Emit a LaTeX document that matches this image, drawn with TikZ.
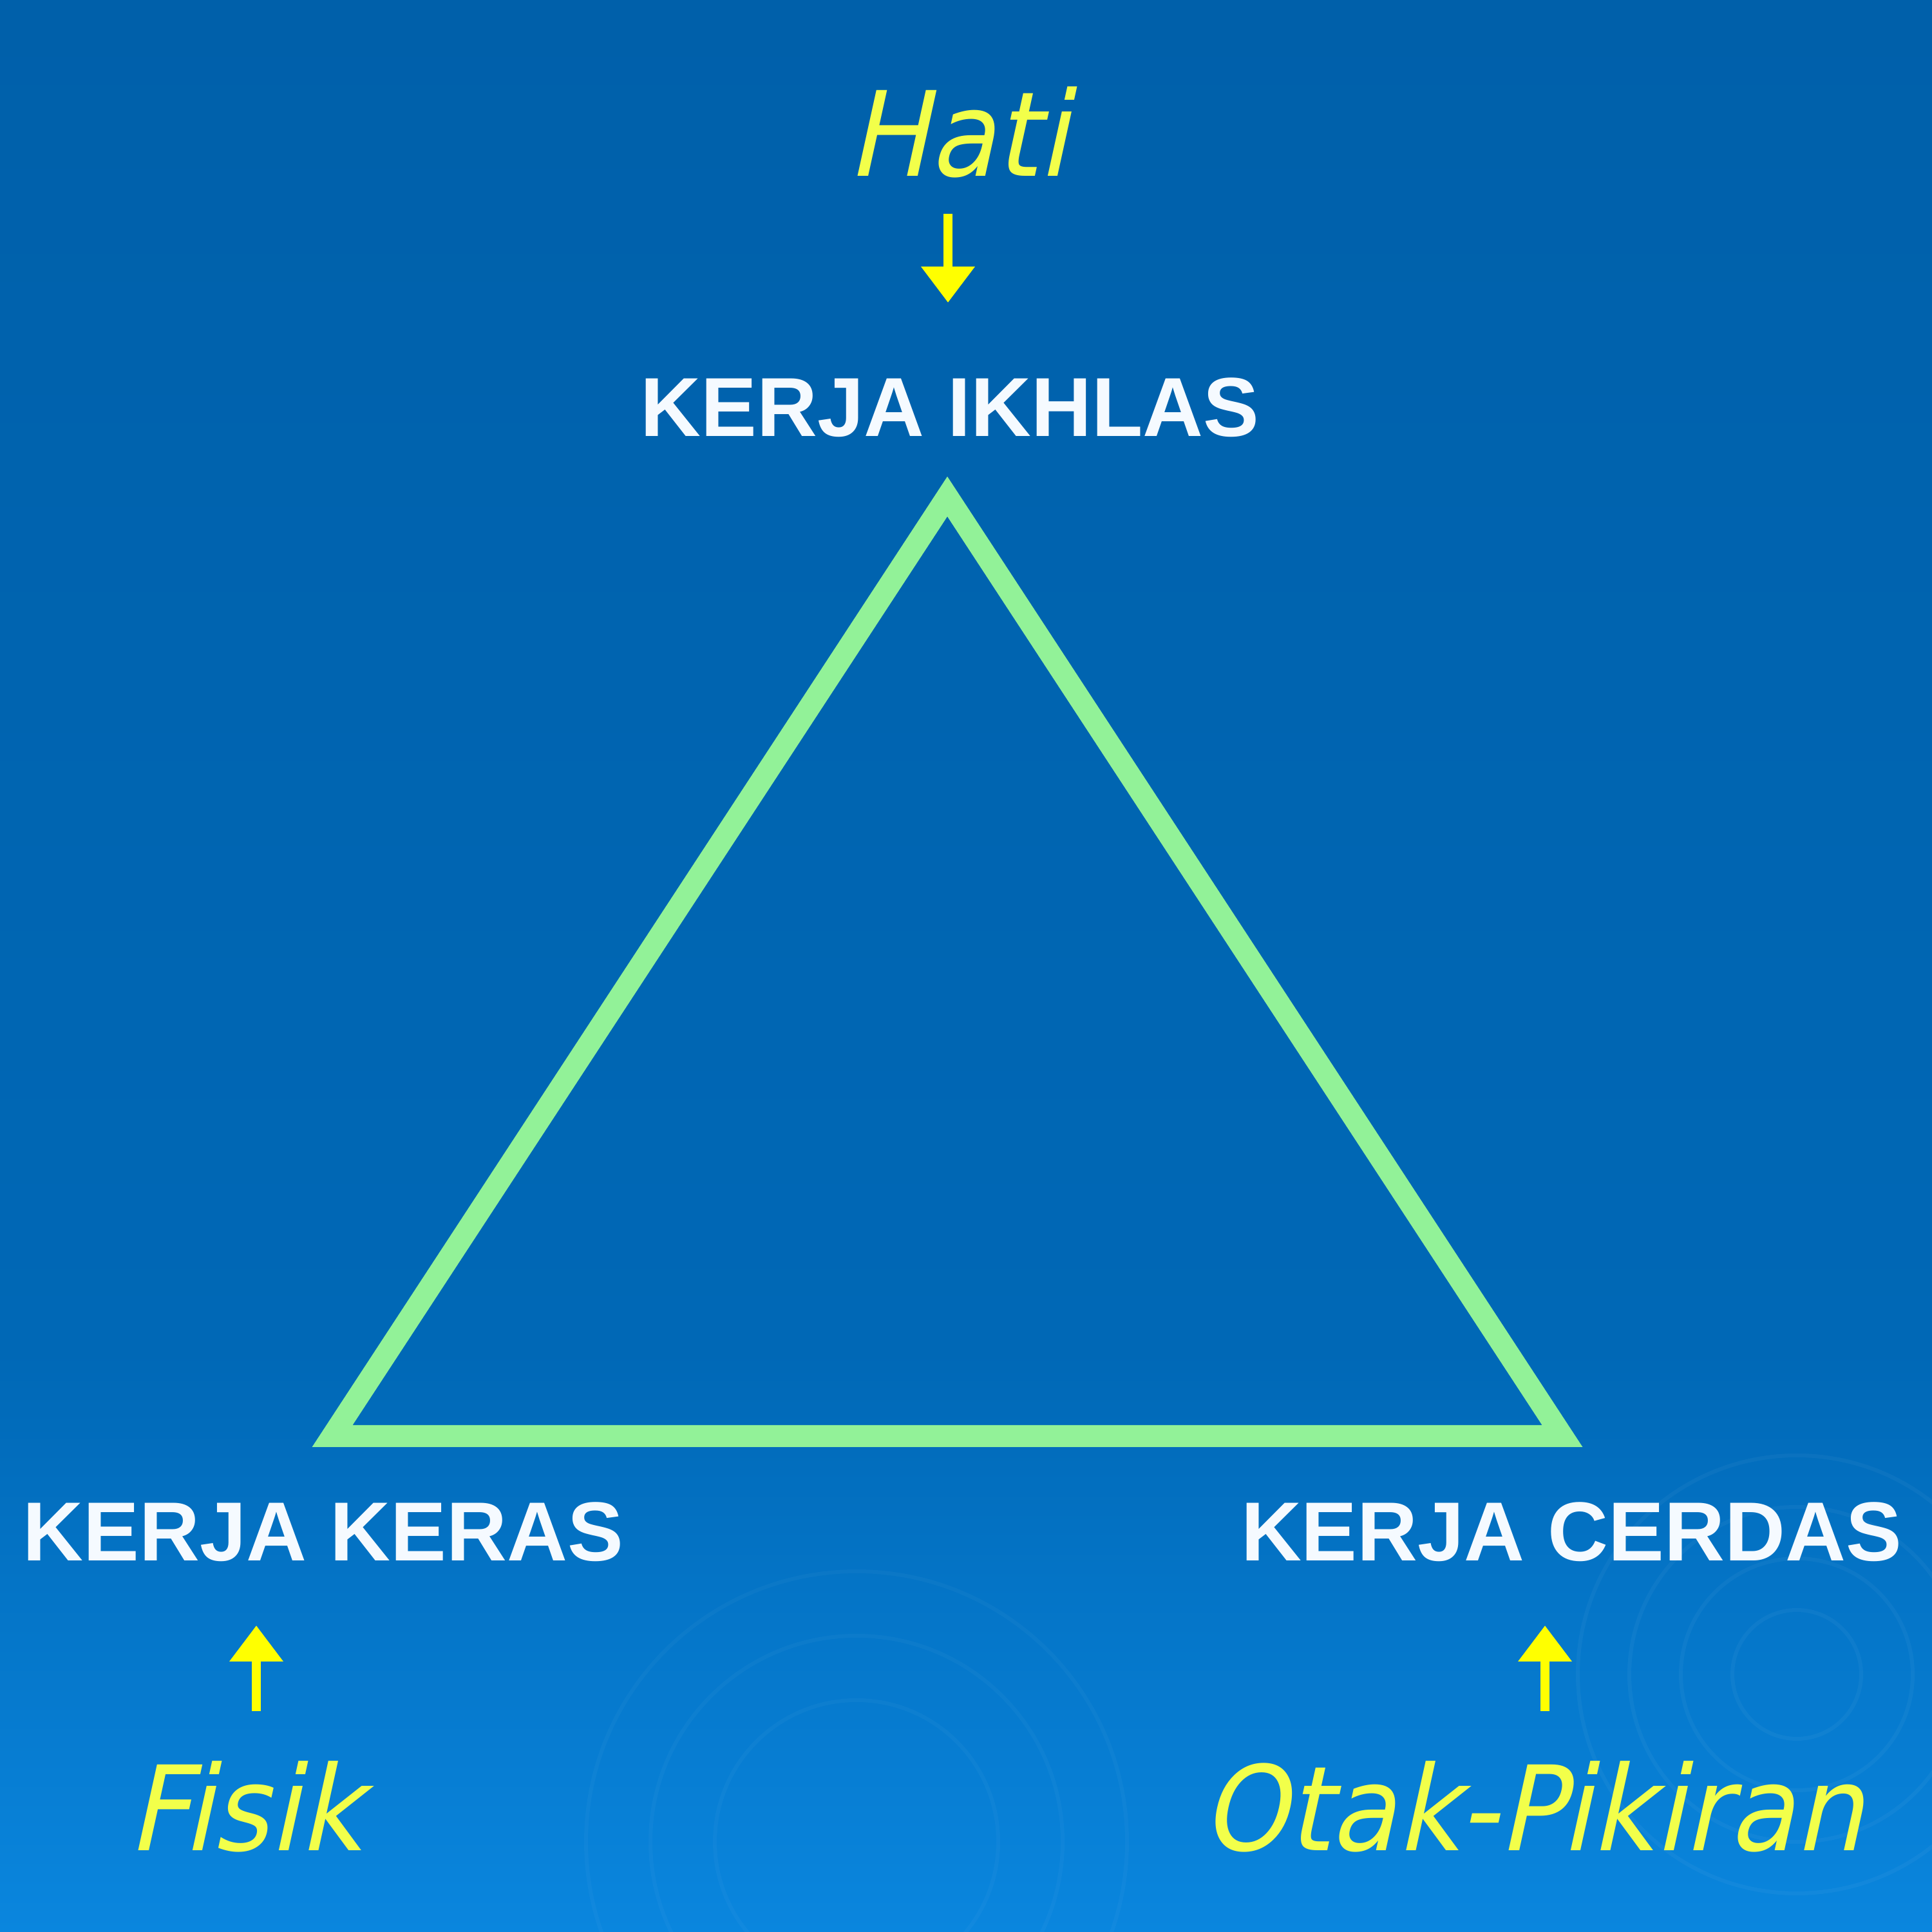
\documentclass[tikz,border=0pt]{standalone}
\usepackage{fontspec}
\setmainfont{Liberation Sans}
\newfontfamily\headfont{Liberation Sans}
\newfontfamily\handfont{DejaVu Sans}[FakeSlant=0.22,FakeStretch=0.92]
\usetikzlibrary{arrows.meta}
\definecolor{bgtop}{RGB}{0,96,170}
\definecolor{bgmid}{RGB}{0,104,182}
\definecolor{bglow}{RGB}{10,134,222}
\definecolor{trigreen}{RGB}{146,242,152}
\definecolor{handyellow}{RGB}{242,255,74}
\definecolor{arrowyellow}{RGB}{255,255,0}
\definecolor{headwhite}{RGB}{245,250,255}
\tikzset{
  headlabel/.style={inner sep=0pt, anchor=base, text=headwhite,
    font=\headfont\bfseries\fontsize{37}{44}\selectfont},
  handlabel/.style={inner sep=0pt, anchor=base, text=handyellow,
    font=\handfont\fontsize{52}{60}\selectfont},
  yarrow/.style={draw=arrowyellow, line width=0.14cm,
    -{Triangle[width=0.8cm,length=0.56cm]}, arrowyellow},
  ripple/.style={draw=white, draw opacity=0.04, line width=0.06cm},
  triline/.style={draw=trigreen, line width=0.34cm, line join=miter}
}
\begin{document}
\begin{tikzpicture}
\useasboundingbox (0,0) rectangle (30,30);
% background
\shade[top color=bgtop, bottom color=bgmid] (0,9) rectangle (30,30);
\shade[top color=bgmid, bottom color=bglow] (0,0) rectangle (30,9.02);
% faint ripples
\foreach \r in {1.0,1.8,2.6,3.4}{\draw[ripple] (27.9,4.0) circle (\r);}
\foreach \r in {2.2,3.2,4.2}{\draw[ripple, draw opacity=0.03] (13.3,1.4) circle (\r);}
% triangle
\coordinate (apex) at (14.71,22.29);
\coordinate (bl) at (5.16,7.70);
\coordinate (br) at (24.26,7.70);
\draw[triline] (apex) -- (bl) -- (br) -- cycle;
% labels
\node[handlabel] (hati) at (14.87,27.26) {Hati};
\node[headlabel] (ikhlas) at (14.75,23.22) {KERJA IKHLAS};
\node[headlabel] (keras) at (5.02,5.76) {KERJA KERAS};
\node[headlabel] (cerdas) at (24.40,5.76) {KERJA CERDAS};
\node[handlabel] (fisik) at (3.80,1.26) {Fisik};
\node[handlabel] (otak) at (23.80,1.26) {Otak-Pikiran};
% arrow ends
\coordinate (h1) at (14.72,26.68);
\coordinate (h2) at (14.72,25.30);
\coordinate (f1) at (3.98,3.43);
\coordinate (f2) at (3.98,4.76);
\coordinate (o1) at (23.99,3.43);
\coordinate (o2) at (23.99,4.76);
\draw[yarrow] (h1) -- (h2);
\draw[yarrow] (f1) -- (f2);
\draw[yarrow] (o1) -- (o2);
\end{tikzpicture}
\end{document}
